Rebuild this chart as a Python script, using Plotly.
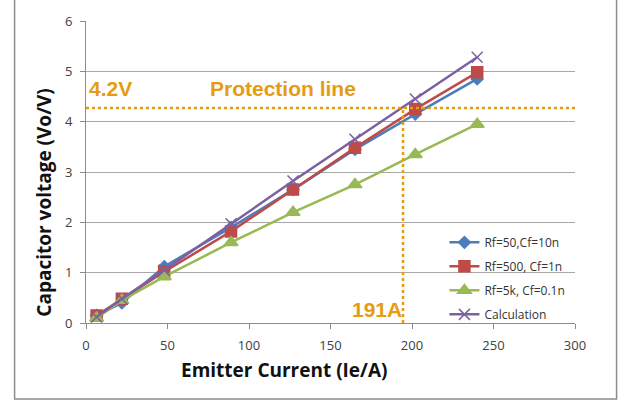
import plotly.graph_objects as go

# Emitter current (A) and measured capacitor voltage (V) for each feedback network
current = [6.5, 22, 48, 89, 127, 165, 202, 240]
v_rf50 = [0.15, 0.40, 1.12, 1.90, 2.65, 3.45, 4.15, 4.85]
v_rf500 = [0.15, 0.48, 1.02, 1.82, 2.65, 3.48, 4.25, 4.98]
v_rf5k = [0.10, 0.45, 0.92, 1.60, 2.20, 2.75, 3.35, 3.95]
v_calc = [0.12, 0.48, 1.05, 1.97, 2.82, 3.65, 4.45, 5.28]

protect_v = 4.27
protect_i = 194.5

x_ticks = [0, 50, 100, 150, 200, 250, 300]
y_ticks = [0, 1, 2, 3, 4, 5, 6]

ORANGE = "#E59C12"
FONT = "Open Sans, Liberation Sans, sans-serif"

series = [
    ("Rf=50,Cf=10n", v_rf50, "#4A7EBB", "diamond", 9),
    ("Rf=500, Cf=1n", v_rf500, "#BE4B48", "square", 11),
    ("Rf=5k, Cf=0.1n", v_rf5k, "#98B954", "triangle-up", 12),
    ("Calculation", v_calc, "#7D60A0", "x-thin-open", 11),
]

fig = go.Figure()
for i, (name, vals, color, sym, size) in enumerate(series):
    fig.add_trace(go.Scatter(
        x=current, y=vals, name=name, mode="lines+markers",
        legendgroup=f"g{i}",
        line=dict(color=color, width=2.5),
        marker=dict(symbol=sym, size=size, color=color,
                    line=dict(color=color, width=1.5)),
    ))

# Protection threshold lines
fig.add_trace(go.Scatter(
    x=[0, 300], y=[protect_v, protect_v], mode="lines", showlegend=False,
    line=dict(color=ORANGE, width=2.5, dash="dot"), hoverinfo="skip",
))
fig.add_trace(go.Scatter(
    x=[protect_i, protect_i], y=[0, protect_v], mode="lines", showlegend=False,
    line=dict(color=ORANGE, width=2.5, dash="dot"), hoverinfo="skip",
))

ann_font = dict(family="Liberation Sans, Arial, sans-serif", size=21, color=ORANGE)
fig.add_annotation(x=0.5, y=4.65, text="<b>4.2V</b>", showarrow=False,
                   xanchor="left", yanchor="middle", font=ann_font)
fig.add_annotation(x=75, y=4.65, text="<b>Protection line</b>", showarrow=False,
                   xanchor="left", yanchor="middle", font=ann_font)
fig.add_annotation(x=195, y=0.27, text="<b>191A</b>", showarrow=False,
                   xanchor="right", yanchor="middle", font=ann_font)

# Axis titles
title_font = dict(family=FONT, size=19, color="#111111")
fig.add_annotation(xref="paper", yref="paper", x=0.405, y=-0.154,
                   text="<b>Emitter Current (Ie/A)</b>", showarrow=False,
                   xanchor="center", yanchor="middle", font=title_font)
fig.add_annotation(xref="paper", yref="paper", x=-0.085, y=0.40,
                   text="<b>Capacitor voltage (Vo/V)</b>", showarrow=False,
                   textangle=-90, xanchor="center", yanchor="middle",
                   font=title_font)

# Outer chart frame
fig.add_shape(type="rect", xref="paper", yref="paper",
              x0=-0.146, x1=1.085, y0=-0.252, y1=1.08,
              line=dict(color="#8C8C8C", width=1.5), layer="below")

fig.update_layout(
    width=625, height=402,
    margin=dict(l=85.5, r=49.5, t=18, b=79),
    paper_bgcolor="white", plot_bgcolor="white",
    font=dict(family=FONT, color="#404040", size=12),
    showlegend=True,
    legend=dict(x=0.733, y=0.315, xanchor="left", yanchor="top",
                bgcolor="rgba(0,0,0,0)", tracegroupgap=5,
                font=dict(family=FONT, size=12, color="#333333"),
                itemwidth=30),
    xaxis=dict(
        range=[0, 300], tickvals=x_ticks, showgrid=False,
        showline=True, linecolor="#8C8C8C", linewidth=1,
        ticks="outside", ticklen=5, tickcolor="#8C8C8C",
        ticklabelstandoff=5,
        tickfont=dict(size=13, color="#404040"),
        zeroline=False,
    ),
    yaxis=dict(
        range=[0, 6], tickvals=y_ticks, showgrid=True, gridcolor="#A8A8A8",
        gridwidth=1, showline=True, linecolor="#8C8C8C", linewidth=1,
        ticks="outside", ticklen=5, tickcolor="#8C8C8C",
        ticklabelstandoff=5,
        tickfont=dict(size=13, color="#404040"),
        zeroline=False,
    ),
)

fig.write_html("out.html")
